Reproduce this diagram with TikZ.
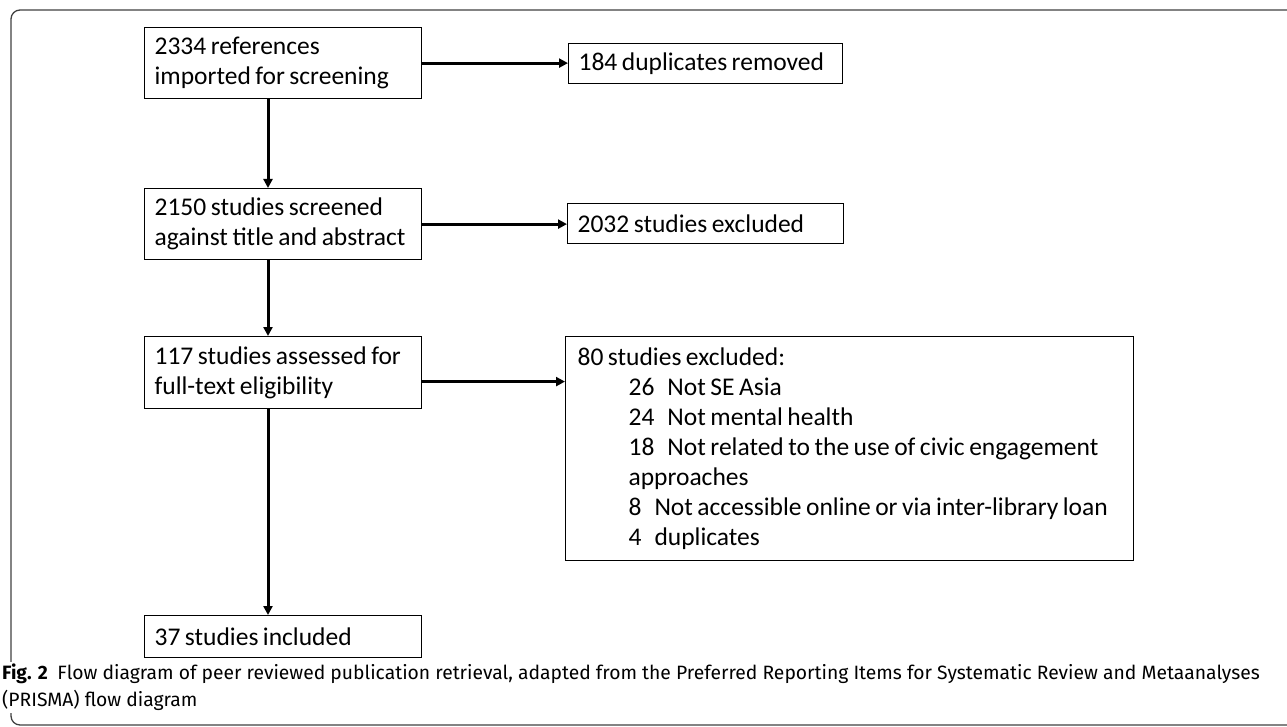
\documentclass[tikz,border=0pt]{standalone}
\usepackage{fontspec}
\setmainfont{Carlito}
\newfontfamily\capfont{Fira Sans}
\usetikzlibrary{arrows.meta}

\begin{document}
\begin{tikzpicture}[x=1pt,y=-1pt,
    box/.style={draw, line width=1.2pt, inner xsep=10pt, inner ysep=0pt, anchor=north west,
        align=left, font=\fontsize{25.5}{30}\selectfont,
        execute at begin node={\spaceskip=4.5pt plus 1pt minus 1pt\relax\hyphenpenalty=10000\relax}},
    flow/.style={line width=3pt, -{Triangle[length=9pt,width=9pt]}}]
    % Page and frame
    \useasboundingbox (0,0) rectangle (1287,727);
    \draw[black!75, line width=1.3pt, rounded corners=9pt] (11,10) rectangle (1320,725);

    % Boxes of the flow
    \node[box, text width=257pt, minimum height=71pt] (imported) at (144,27) {2334 references\\imported for screening};
    \node[box, text width=254pt, minimum height=40pt] (dups) at (568,43) {\mbox{184 duplicates removed}};
    \node[box, text width=257pt, minimum height=71pt] (screened) at (144,188) {2150 studies screened\\against title and abstract};
    \node[box, text width=256pt, minimum height=40pt] (excluded) at (567,203) {\mbox{2032 studies excluded}};
    \node[box, text width=257pt, minimum height=72pt] (assessed) at (144,336) {117 studies assessed for\\full-text eligibility};
    \node[box, inner xsep=12pt, text width=544pt, minimum height=224pt] (fulltext) at (565,336) {80 studies excluded:\\
        \hspace*{51pt}26\hspace{13pt}Not SE Asia\\
        \hspace*{51pt}24\hspace{13pt}Not mental health\\
        \hspace*{51pt}18\hspace{13pt}Not related to the use of civic engagement\\
        \hspace*{51pt}approaches\\
        \hspace*{51pt}8\hspace{13pt}Not accessible online or via inter-library loan\\
        \hspace*{51pt}4\hspace{13pt}duplicates};
    \node[box, text width=257pt, minimum height=42pt] (included) at (144,615) {\mbox{37 studies included}};

    % Arrows
    \coordinate (spine) at (268,0);
    \coordinate (aout) at ([yshift=-9pt]assessed.east);
    \draw[flow] (imported.south -| spine) -- (screened.north -| spine);
    \draw[flow] (screened.south -| spine) -- (assessed.north -| spine);
    \draw[flow] (assessed.south -| spine) -- (included.north -| spine);
    \draw[flow] (imported.east) -- (imported.east -| dups.west);
    \draw[flow] (screened.east) -- (screened.east -| excluded.west);
    \draw[flow] (aout) -- (aout -| fulltext.west);

    % Caption
    \node[fill=white, anchor=north west, inner sep=2pt, align=left,
        font=\capfont\fontsize{19.3}{27}\selectfont] (caption) at (0,662)
        {\textbf{Fig. 2}\enskip Flow diagram of peer reviewed publication retrieval, adapted from the Preferred Reporting Items for Systematic Review and Metaanalyses\\(PRISMA) flow diagram};
\end{tikzpicture}
\end{document}
